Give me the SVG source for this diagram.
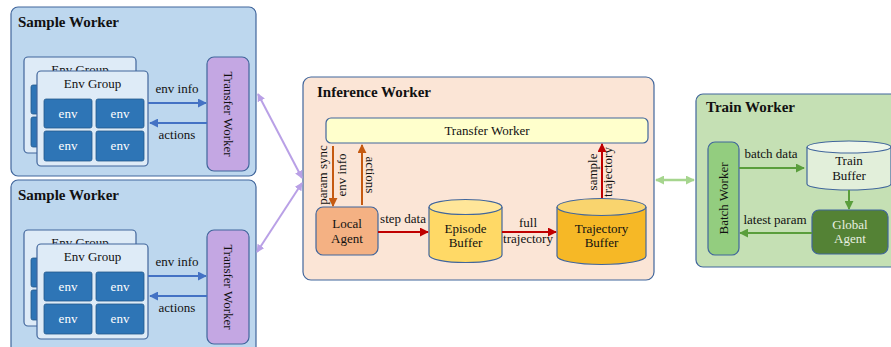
<svg xmlns="http://www.w3.org/2000/svg" width="891" height="347" viewBox="0 0 891 347">
<defs>
<style>
text{font-family:"Liberation Serif","Times New Roman",serif;font-size:13px;fill:#111;}
.title{font-size:15px;font-weight:bold;}
.c{text-anchor:middle;}
.sw{fill:#bdd7ee;stroke:#41669c;stroke-width:1.2;}
.eg{fill:#deebf7;stroke:#41669c;stroke-width:1.2;}
.env{fill:#2e75b6;stroke:#24598c;stroke-width:0.8;}
.envt{fill:#fff;text-anchor:middle;}
.tw{fill:#c4a7e3;stroke:#41669c;stroke-width:1.2;}
.iw{fill:#fbe5d6;stroke:#41669c;stroke-width:1.2;}
.trw{fill:#c5e0b4;stroke:#41669c;stroke-width:1.2;}
.blue{stroke:#4472c4;stroke-width:2;fill:none;marker-end:url(#ab);}
.orange{stroke:#c55a11;stroke-width:2;fill:none;marker-end:url(#ao);}
.red{stroke:#c00000;stroke-width:2;fill:none;marker-end:url(#ar);}
.green{stroke:#5a9e3c;stroke-width:2;fill:none;marker-end:url(#ag);}
.purple{stroke:#b9a0e6;stroke-width:2;fill:none;marker-end:url(#ap);marker-start:url(#aps);}
.lgreen{stroke:#a6d58e;stroke-width:2.5;fill:none;marker-end:url(#alg);marker-start:url(#algs);}
</style>
<marker id="ab" viewBox="0 0 10 10" refX="9" refY="5" markerWidth="4.5" markerHeight="4.5" orient="auto"><path d="M0,0L10,5L0,10z" fill="#4472c4"/></marker>
<marker id="ao" viewBox="0 0 10 10" refX="9" refY="5" markerWidth="4.5" markerHeight="4.5" orient="auto"><path d="M0,0L10,5L0,10z" fill="#c55a11"/></marker>
<marker id="ar" viewBox="0 0 10 10" refX="9" refY="5" markerWidth="4.5" markerHeight="4.5" orient="auto"><path d="M0,0L10,5L0,10z" fill="#c00000"/></marker>
<marker id="ag" viewBox="0 0 10 10" refX="9" refY="5" markerWidth="4.5" markerHeight="4.5" orient="auto"><path d="M0,0L10,5L0,10z" fill="#5a9e3c"/></marker>
<marker id="ap" viewBox="0 0 10 10" refX="9" refY="5" markerWidth="4" markerHeight="4" orient="auto"><path d="M0,0L10,5L0,10z" fill="#b9a0e6"/></marker>
<marker id="aps" viewBox="0 0 10 10" refX="1" refY="5" markerWidth="4" markerHeight="4" orient="auto"><path d="M10,0L0,5L10,10z" fill="#b9a0e6"/></marker>
<marker id="alg" viewBox="0 0 10 10" refX="9" refY="5" markerWidth="3.6" markerHeight="3.6" orient="auto"><path d="M0,0L10,5L0,10z" fill="#a6d58e"/></marker>
<marker id="algs" viewBox="0 0 10 10" refX="1" refY="5" markerWidth="3.6" markerHeight="3.6" orient="auto"><path d="M10,0L0,5L10,10z" fill="#a6d58e"/></marker>
<g id="envgroup">
<rect class="eg" x="24" y="57" width="112" height="96" rx="4"/>
<text class="c" x="80" y="74">Env Group</text>
<rect class="env" x="31" y="85" width="48" height="29" rx="2"/>
<rect class="env" x="31" y="117" width="48" height="30" rx="2"/>
<rect class="eg" x="37" y="71" width="111" height="95" rx="4"/>
<text class="c" x="92.5" y="88">Env Group</text>
<rect class="env" x="44" y="99" width="48" height="29" rx="2"/>
<rect class="env" x="96" y="99" width="48" height="29" rx="2"/>
<rect class="env" x="44" y="131" width="48" height="30" rx="2"/>
<rect class="env" x="96" y="131" width="48" height="30" rx="2"/>
<text class="envt" x="68" y="118">env</text>
<text class="envt" x="120" y="118">env</text>
<text class="envt" x="68" y="150">env</text>
<text class="envt" x="120" y="150">env</text>
</g>
</defs>

<g id="sample-worker-1">
<rect class="sw" x="11" y="7" width="245" height="169" rx="7"/>
<text class="title" x="18" y="27">Sample Worker</text>
<use href="#envgroup"/>
<rect class="tw" x="207" y="57" width="42" height="114" rx="7"/>
<text class="c" transform="translate(224,114) rotate(90)">Transfer Worker</text>
</g>

<g id="sample-worker-2">
<rect class="sw" x="11" y="180" width="245" height="175" rx="7"/>
<text class="title" x="18" y="200">Sample Worker</text>
<use href="#envgroup" y="173"/>
<rect class="tw" x="207" y="230" width="42" height="114" rx="7"/>
<text class="c" transform="translate(224,287) rotate(90)">Transfer Worker</text>
</g>

<g id="inference-worker">
<rect class="iw" x="303" y="77" width="351" height="203" rx="8"/>
<text class="title" x="317" y="97">Inference Worker</text>
</g>
<g id="transfer-bar">
<rect x="326" y="118" width="322" height="25" rx="5" fill="#ffffcc" stroke="#41669c" stroke-width="1.2"/>
<text class="c" x="487" y="135">Transfer Worker</text>
</g>
<g id="local-agent">
<rect x="316" y="207" width="62" height="48" rx="7" fill="#f4b183" stroke="#41669c" stroke-width="1.2"/>
<text class="c" x="347" y="228">Local</text>
<text class="c" x="347" y="243">Agent</text>
</g>
<g id="episode-buffer">
<path d="M429,207 L429,255 A36.5,7.5 0 0 0 502,255 L502,207" fill="#ffd966" stroke="#41669c" stroke-width="1.2"/>
<ellipse cx="465.5" cy="207" rx="36.5" ry="7.5" fill="#ffe699" stroke="#41669c" stroke-width="1.2"/>
<text class="c" x="465.5" y="233">Episode</text>
<text class="c" x="465.5" y="247">Buffer</text>
</g>
<g id="trajectory-buffer">
<path d="M557,207 L557,256 A44.5,8.5 0 0 0 646,256 L646,207" fill="#f6b826" stroke="#41669c" stroke-width="1.2"/>
<ellipse cx="601.5" cy="207" rx="44.5" ry="8.5" fill="#f9d46e" stroke="#41669c" stroke-width="1.2"/>
<text class="c" x="601.5" y="233">Trajectory</text>
<text class="c" x="601.5" y="247">Buffer</text>
</g>

<g id="train-worker">
<rect class="trw" x="696" y="94" width="205" height="173" rx="7"/>
<text class="title" x="706" y="112">Train Worker</text>
</g>
<g id="batch-worker">
<rect x="708" y="142" width="31" height="113" rx="7" fill="#93cd7f" stroke="#41669c" stroke-width="1.2"/>
<text class="c" transform="translate(728,198.5) rotate(-90)">Batch Worker</text>
</g>
<g id="train-buffer">
<path d="M807,147 L807,184 A42,6 0 0 0 891,184 L891,147" fill="#e2efda" stroke="#41669c" stroke-width="1.2"/>
<ellipse cx="849" cy="147" rx="42" ry="6" fill="#eef6ea" stroke="#41669c" stroke-width="1.2"/>
<text class="c" x="849" y="165">Train</text>
<text class="c" x="849" y="180">Buffer</text>
</g>
<g id="global-agent">
<rect x="812" y="210" width="76" height="44" rx="7" fill="#548235" stroke="#41669c" stroke-width="1.2"/>
<text class="c" x="850" y="229" style="fill:#e8f0e0">Global</text>
<text class="c" x="850" y="243" style="fill:#e8f0e0">Agent</text>
</g>

<g id="connectors">
<line class="blue" x1="148" y1="103" x2="206" y2="103"/>
<line class="blue" x1="207" y1="123" x2="150" y2="123"/>
<text class="c" x="177" y="93">env info</text>
<text class="c" x="177" y="139">actions</text>
<line class="blue" x1="148" y1="276" x2="206" y2="276"/>
<line class="blue" x1="207" y1="296" x2="150" y2="296"/>
<text class="c" x="177" y="266">env info</text>
<text class="c" x="177" y="312">actions</text>

<line class="purple" x1="258" y1="94" x2="302" y2="178"/>
<line class="purple" x1="302" y1="183" x2="257" y2="252"/>

<line class="orange" x1="333" y1="146" x2="333" y2="206"/>
<line class="orange" x1="362" y1="205" x2="362" y2="145"/>
<text class="c" transform="translate(327,175) rotate(-90)">param sync</text>
<text class="c" transform="translate(346,175) rotate(-90)">env info</text>
<text class="c" transform="translate(366,175) rotate(90)">actions</text>

<line class="red" x1="378" y1="232" x2="428" y2="232"/>
<text class="c" x="403" y="223">step data</text>
<line class="red" x1="502" y1="232" x2="556" y2="232"/>
<text class="c" x="528" y="227">full</text>
<text class="c" x="528" y="243">trajectory</text>
<line class="red" x1="602" y1="198" x2="602" y2="144"/>
<text class="c" transform="translate(597,172) rotate(-90)">sample</text>
<text class="c" transform="translate(612,172) rotate(-90)">trajectory</text>

<line class="lgreen" x1="656" y1="180" x2="694" y2="180"/>

<line class="green" x1="739" y1="168" x2="804" y2="168"/>
<text class="c" x="771" y="158">batch data</text>
<line class="green" x1="849" y1="190" x2="849" y2="209"/>
<line class="green" x1="812" y1="233" x2="740" y2="233"/>
<text class="c" x="775" y="224">latest param</text>
</g>
</svg>
